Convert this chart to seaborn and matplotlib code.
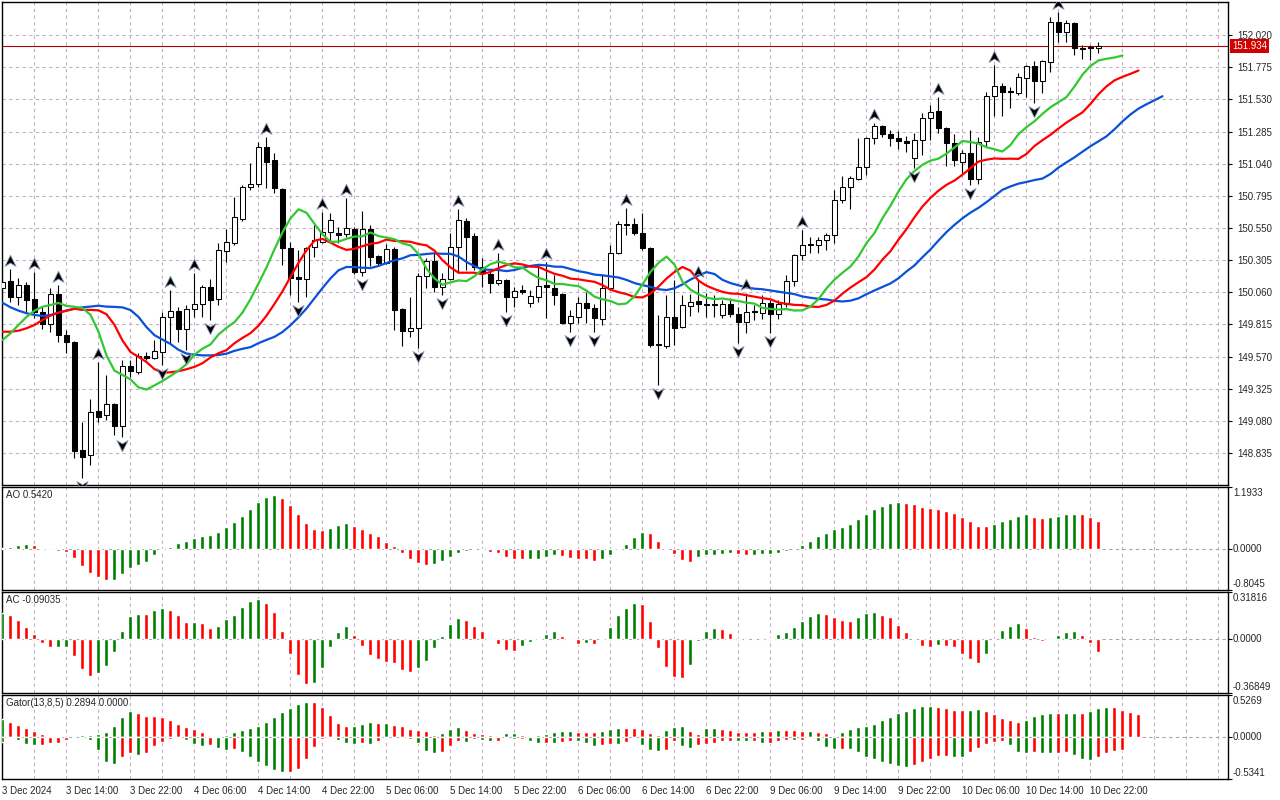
import numpy as np
import matplotlib
matplotlib.use('Agg')
import matplotlib.pyplot as plt
import matplotlib.transforms as mtransforms
from matplotlib.path import Path
import seaborn as sns

# hourly candles, 3 Dec 2024 06:00 -> 10 Dec 2024 23:00
open_ = [150.093, 150.146, 150.024, 150.115, 150.009, 149.910, 149.818, 150.047, 149.734, 149.681,
         148.858, 148.820, 149.155, 149.125, 149.209, 149.041, 149.498, 149.452, 149.574, 149.559,
         149.605, 149.871, 149.917, 149.780, 149.932, 149.971, 150.100, 150.009, 150.374, 150.435,
         150.618, 150.862, 150.885, 151.167, 151.068, 150.847, 150.397, 150.176, 150.161, 150.405,
         150.443, 150.519, 150.512, 150.504, 150.542, 150.214, 150.542, 150.336, 150.283, 150.390,
         149.932, 149.765, 149.788, 150.184, 150.298, 150.100, 150.161, 150.405, 150.603, 150.489,
         150.253, 150.199, 150.131, 150.153, 150.024, 150.077, 149.978, 150.024, 150.115, 150.093,
         150.047, 149.826, 149.871, 149.978, 149.940, 149.856, 150.093, 150.359, 150.580, 150.580,
         150.512, 150.397, 149.666, 149.650, 149.871, 149.795, 149.955, 149.993, 149.971, 149.971,
         149.887, 149.971, 149.894, 149.833, 149.917, 149.902, 149.978, 149.894, 149.971, 150.146,
         150.344, 150.428, 150.420, 150.458, 150.496, 150.763, 150.862, 150.923, 151.015, 151.235,
         151.327, 151.266, 151.235, 151.213, 151.083, 151.220, 151.388, 151.441, 151.312, 151.197,
         151.053, 151.121, 150.923, 151.213, 151.555, 151.632, 151.594, 151.578, 151.693, 151.784,
         151.670, 151.815, 152.119, 152.043, 152.112, 151.921, 151.929, 151.921]
high = [150.169, 150.237, 150.169, 150.138, 150.214, 149.948, 150.093, 150.115, 149.772, 149.689,
        149.071, 149.247, 149.529, 149.430, 149.215, 149.544, 149.544, 149.597, 149.605, 149.696,
        149.910, 150.077, 149.948, 149.963, 150.207, 150.115, 150.161, 150.435, 150.542, 150.786,
        150.877, 151.045, 151.205, 151.240, 151.121, 150.854, 150.443, 150.382, 150.405, 150.573,
        150.672, 150.664, 150.557, 150.778, 150.557, 150.679, 150.573, 150.344, 150.428, 150.405,
        149.940, 150.024, 150.207, 150.321, 150.359, 150.207, 150.512, 150.694, 150.626, 150.512,
        150.321, 150.230, 150.359, 150.161, 150.100, 150.115, 150.077, 150.253, 150.291, 150.192,
        150.054, 149.925, 150.024, 150.062, 149.971, 150.192, 150.420, 150.603, 150.702, 150.626,
        150.664, 150.405, 149.887, 150.039, 150.153, 150.039, 150.047, 150.153, 150.054, 150.039,
        150.001, 150.016, 149.948, 150.054, 149.963, 150.039, 150.001, 150.001, 150.192, 150.352,
        150.534, 150.481, 150.481, 150.512, 150.839, 150.946, 150.946, 151.235, 151.243, 151.350,
        151.335, 151.296, 151.289, 151.251, 151.274, 151.426, 151.487, 151.548, 151.320, 151.266,
        151.144, 151.296, 151.243, 151.586, 151.792, 151.655, 151.624, 151.731, 151.792, 151.822,
        151.830, 152.157, 152.196, 152.135, 152.119, 151.944, 151.944, 151.967]
low = [150.062, 149.986, 149.963, 149.902, 149.864, 149.780, 149.757, 149.681, 149.597, 148.797,
       148.645, 148.744, 149.071, 149.087, 148.972, 148.957, 149.414, 149.437, 149.544, 149.552,
       149.506, 149.673, 149.681, 149.620, 149.871, 149.871, 149.849, 149.963, 150.291, 150.420,
       150.603, 150.839, 150.862, 150.854, 150.816, 150.268, 150.039, 149.986, 150.024, 150.329,
       150.435, 150.443, 150.435, 150.481, 150.199, 150.184, 150.260, 150.268, 150.276, 149.772,
       149.650, 149.719, 149.635, 150.093, 150.062, 150.039, 150.153, 150.207, 150.230, 150.230,
       150.100, 150.054, 150.115, 149.910, 149.948, 150.047, 149.948, 149.986, 149.864, 149.963,
       149.818, 149.757, 149.826, 149.826, 149.757, 149.811, 150.077, 150.352, 150.496, 150.496,
       150.382, 149.643, 149.353, 149.635, 149.658, 149.788, 149.879, 149.910, 149.871, 149.871,
       149.864, 149.871, 149.673, 149.750, 149.849, 149.856, 149.750, 149.856, 149.948, 150.108,
       150.306, 150.359, 150.359, 150.382, 150.435, 150.740, 150.694, 150.915, 150.953, 151.190,
       151.243, 151.175, 151.152, 151.129, 151.007, 151.106, 151.220, 151.274, 151.022, 151.022,
       150.969, 150.877, 150.885, 151.175, 151.403, 151.403, 151.464, 151.563, 151.548, 151.502,
       151.578, 151.738, 151.967, 151.967, 151.868, 151.837, 151.830, 151.883]
close = [150.138, 150.024, 150.115, 150.001, 149.910, 149.818, 150.047, 149.734, 149.681, 148.850,
         148.805, 149.148, 149.109, 149.209, 149.041, 149.498, 149.460, 149.574, 149.559, 149.612,
         149.871, 149.917, 149.780, 149.932, 149.971, 150.100, 150.001, 150.382, 150.443, 150.633,
         150.862, 150.885, 151.167, 151.053, 150.854, 150.397, 150.169, 150.161, 150.397, 150.458,
         150.519, 150.611, 150.496, 150.550, 150.214, 150.542, 150.329, 150.283, 150.390, 149.925,
         149.765, 149.788, 150.184, 150.298, 150.100, 150.161, 150.405, 150.611, 150.481, 150.253,
         150.214, 150.131, 150.153, 150.024, 150.070, 150.062, 150.032, 150.108, 150.100, 150.039,
         149.826, 149.879, 149.978, 149.940, 149.864, 150.093, 150.359, 150.580, 150.573, 150.512,
         150.397, 149.658, 149.658, 149.871, 149.788, 149.963, 149.986, 149.971, 149.963, 149.963,
         149.971, 149.894, 149.833, 149.910, 149.910, 149.978, 149.894, 149.971, 150.146, 150.344,
         150.420, 150.420, 150.458, 150.496, 150.763, 150.862, 150.931, 151.015, 151.235, 151.327,
         151.266, 151.235, 151.213, 151.197, 151.220, 151.388, 151.434, 151.312, 151.197, 151.068,
         151.121, 150.923, 151.205, 151.555, 151.632, 151.586, 151.586, 151.700, 151.784, 151.670,
         151.822, 152.119, 152.043, 152.112, 151.921, 151.914, 151.921, 151.934]

# bars carrying a fractal arrow
fractal_up = [1, 4, 7, 12, 21, 24, 33, 40, 43, 57, 62, 68, 78, 87, 93, 100, 109, 117, 124, 132]
fractal_dn = [10, 15, 20, 23, 26, 37, 45, 52, 55, 63, 71, 74, 82, 92, 96, 114, 121, 129]

# alligator values drawn over the first bars (they come from older history)
jaw_start = [149.980, 149.945, 149.920, 149.900, 149.887, 149.879, 149.887, 149.904]
teeth_start = [149.759, 149.759, 149.767, 149.785, 149.811]
lips_start = [149.696, 149.747, 149.811]

ao = [0.010, 0.026, 0.065, 0.084, 0.065, 0.007, -0.026, -0.046, -0.065, -0.187,
      -0.337, -0.478, -0.550, -0.608, -0.601, -0.492, -0.381, -0.323, -0.259, -0.129,
      -0.026, 0.039, 0.104, 0.155, 0.201, 0.245, 0.259, 0.323, 0.420, 0.517,
      0.633, 0.763, 0.905, 1.002, 1.041, 0.977, 0.841, 0.666, 0.504, 0.375,
      0.356, 0.395, 0.459, 0.492, 0.434, 0.375, 0.298, 0.240, 0.129, 0.042,
      -0.090, -0.207, -0.284, -0.323, -0.304, -0.245, -0.168, -0.090, -0.051, -0.032,
      -0.026, -0.071, -0.090, -0.168, -0.207, -0.209, -0.204, -0.201, -0.168, -0.129,
      -0.148, -0.187, -0.207, -0.209, -0.245, -0.207, -0.129, -0.013, 0.097, 0.233,
      0.330, 0.310, 0.155, 0.019, -0.110, -0.226, -0.265, -0.168, -0.129, -0.116,
      -0.110, -0.090, -0.110, -0.129, -0.126, -0.110, -0.107, -0.090, -0.051, -0.013,
      0.078, 0.155, 0.252, 0.310, 0.369, 0.427, 0.485, 0.582, 0.679, 0.776,
      0.834, 0.892, 0.897, 0.892, 0.854, 0.815, 0.795, 0.776, 0.737, 0.698,
      0.621, 0.543, 0.446, 0.441, 0.485, 0.543, 0.582, 0.640, 0.660, 0.621,
      0.601, 0.621, 0.640, 0.660, 0.679, 0.674, 0.621, 0.542]
ac = [0.176, 0.162, 0.127, 0.079, 0.030, -0.030, -0.056, -0.055, -0.054, -0.120,
      -0.204, -0.252, -0.231, -0.183, -0.093, 0.051, 0.157, 0.169, 0.168, 0.197,
      0.206, 0.197, 0.164, 0.116, 0.117, 0.109, 0.074, 0.088, 0.134, 0.164,
      0.213, 0.255, 0.269, 0.241, 0.185, 0.051, -0.102, -0.245, -0.308, -0.301,
      -0.199, -0.058, 0.046, 0.088, 0.025, -0.051, -0.109, -0.137, -0.155, -0.165,
      -0.211, -0.225, -0.197, -0.148, -0.065, 0.021, 0.100, 0.141, 0.127, 0.086,
      0.051, -0.002, -0.037, -0.079, -0.086, -0.051, -0.023, 0.002, 0.030, 0.051,
      0.016, -0.009, -0.037, -0.030, -0.037, 0.003, 0.079, 0.162, 0.211, 0.245,
      0.238, 0.120, -0.065, -0.190, -0.259, -0.266, -0.176, -0.016, 0.051, 0.072,
      0.065, 0.037, -0.004, -0.009, -0.007, 0.000, 0.007, 0.030, 0.044, 0.079,
      0.120, 0.155, 0.176, 0.169, 0.148, 0.127, 0.120, 0.148, 0.176, 0.183,
      0.162, 0.148, 0.093, 0.044, -0.009, -0.051, -0.058, -0.044, -0.051, -0.058,
      -0.100, -0.134, -0.162, -0.100, -0.009, 0.058, 0.086, 0.106, 0.072, 0.009,
      -0.016, -0.001, 0.023, 0.044, 0.051, 0.023, -0.030, -0.090]

time_labels = ['3 Dec 2024', '3 Dec 14:00', '3 Dec 22:00', '4 Dec 06:00', '4 Dec 14:00',
               '4 Dec 22:00', '5 Dec 06:00', '5 Dec 14:00', '5 Dec 22:00', '6 Dec 06:00',
               '6 Dec 14:00', '6 Dec 22:00', '9 Dec 06:00', '9 Dec 14:00', '9 Dec 22:00',
               '10 Dec 06:00', '10 Dec 14:00', '10 Dec 22:00']
price_ticks = [148.835, 149.080, 149.325, 149.570, 149.815, 150.060, 150.305,
               150.550, 150.795, 151.040, 151.285, 151.530, 151.775, 152.020]
last_price = 151.934

sns.set_style('white')
plt.rcParams['font.family'] = ['Liberation Sans', 'DejaVu Sans']
plt.rcParams['font.size'] = 7

o = np.array(open_)
h = np.array(high)
l = np.array(low)
c = np.array(close)
n = len(c)
x = np.arange(n)

# alligator: smoothed MA of median price, shifted forward
med = (h + l) / 2
jaw = list(jaw_start)
for k in range(len(jaw_start), n + 8):
    jaw.append((jaw[-1] * 12 + med[k - 8]) / 13)
teeth = list(teeth_start)
for k in range(len(teeth_start), n + 5):
    teeth.append((teeth[-1] * 7 + med[k - 5]) / 8)
lips = list(lips_start)
for k in range(len(lips_start), n + 3):
    lips.append((lips[-1] * 4 + med[k - 3]) / 5)
jaw, teeth, lips = np.array(jaw), np.array(teeth), np.array(lips)

gator_up = np.abs(jaw[:len(teeth)] - teeth)
gator_dn = np.abs(teeth[:len(lips)] - lips)

GREEN, RED = '#008000', '#ff0000'


def bar_colors(vals):
    cols = [GREEN]
    for i in range(1, len(vals)):
        cols.append(GREEN if vals[i] > vals[i - 1] else RED)
    return cols


fig = plt.figure(figsize=(12.8, 8), dpi=100)


def panel(top, bottom):
    return fig.add_axes([2 / 1280, 1 - bottom / 800, 1226 / 1280, (bottom - top) / 800])


ax = panel(2, 485)
ax_ao = panel(487, 590)
ax_ac = panel(592, 693)
ax_g = panel(695, 779)
axes = [ax, ax_ao, ax_ac, ax_g]

grid_col = '#c4afc6'
dash = (0, (3, 3))
for a in axes:
    a.set_xlim(-0.0625, 153.19)
    for gx in range(0, 154, 4):
        a.axvline(gx, color=grid_col, lw=0.8, ls=dash, zorder=0)
    for s in a.spines.values():
        s.set_color('black')
        s.set_linewidth(1)
    a.set_xticks([])
    a.tick_params(axis='y', which='both', length=3, color='black', direction='out', pad=3)

# main chart
for p in price_ticks:
    ax.axhline(p, color=grid_col, lw=0.8, ls=dash, zorder=0)
ax.axhline(last_price, color='#b00000', lw=0.8, zorder=1)

ax.vlines(x, l, h, color='black', lw=0.8, zorder=3)
body_lo = np.minimum(o, c)
body_h = np.maximum(np.abs(c - o), 0.002)
ax.bar(x, body_h, bottom=body_lo, width=0.62, color=np.where(c >= o, 'white', 'black'),
       edgecolor='black', linewidth=0.75, zorder=4)

sns.lineplot(x=np.arange(len(jaw)), y=jaw, ax=ax, color='#0a50d8', linewidth=1.6, zorder=5)
sns.lineplot(x=np.arange(len(teeth)), y=teeth, ax=ax, color='#ff0000', linewidth=1.6, zorder=5)
sns.lineplot(x=np.arange(len(lips)), y=lips, ax=ax, color='#32c832', linewidth=1.6, zorder=5)

codes = [Path.MOVETO, Path.LINETO, Path.LINETO, Path.LINETO, Path.CLOSEPOLY]
arrow_up = Path([(0, 1), (0.9, -0.8), (0, -0.25), (-0.9, -0.8), (0, 1)], codes)
arrow_dn = Path([(0, -1), (0.9, 0.8), (0, 0.25), (-0.9, 0.8), (0, -1)], codes)
up_tr = mtransforms.offset_copy(ax.transData, fig=fig, x=0, y=8, units='dots')
dn_tr = mtransforms.offset_copy(ax.transData, fig=fig, x=0, y=-8, units='dots')
ax.scatter(x[fractal_up], h[fractal_up], marker=arrow_up, s=80, c='black',
           edgecolors='#8c9ab8', linewidths=0.6, transform=up_tr, zorder=6)
ax.scatter(x[fractal_dn], l[fractal_dn], marker=arrow_dn, s=80, c='black',
           edgecolors='#8c9ab8', linewidths=0.6, transform=dn_tr, zorder=6)

ax.set_ylim(148.591, 152.272)
ax.yaxis.tick_right()
ax.set_yticks(price_ticks)
ax.set_yticklabels([f'{p:.3f}' for p in price_ticks], fontsize=7)
ax.tick_params(axis='y', pad=4)
ax.set_xlabel('')
ax.set_ylabel('')
blend = mtransforms.blended_transform_factory(ax.transAxes, ax.transData)
ax.annotate(f'{last_price:.3f}', xy=(1, last_price), xycoords=blend, xytext=(4, 0),
            textcoords='offset pixels', va='center', ha='left', color='white', fontsize=7,
            bbox=dict(boxstyle='square,pad=0.22', fc='#d10000', ec='none'),
            annotation_clip=False, zorder=10)


def side_labels(a, top_val, bottom_val, texts):
    a.yaxis.tick_right()
    a.set_ylim(bottom_val, top_val)
    a.set_yticks([bottom_val, 0, top_val])
    a.set_yticklabels([])
    tr = mtransforms.blended_transform_factory(a.transAxes, a.transData)
    for v, va, dy, t in ((top_val, 'top', -1, texts[0]), (0, 'center', 0, texts[1]),
                         (bottom_val, 'bottom', 1, texts[2])):
        a.annotate(t, xy=(1, v), xycoords=tr, xytext=(5, dy), textcoords='offset pixels',
                   va=va, ha='left', fontsize=7, annotation_clip=False)
    a.axhline(0, color='#a0a6b4', lw=0.8, ls=dash, zorder=1)


def title(a, text):
    a.annotate(text, xy=(0, 1), xycoords='axes fraction', xytext=(4, -3),
               textcoords='offset pixels', va='top', ha='left', fontsize=7)


# AO
ax_ao.bar(x, ao, width=0.5, color=bar_colors(ao), zorder=3)
side_labels(ax_ao, 1.1933, -0.8045, ['1.1933', '0.0000', '-0.8045'])
title(ax_ao, 'AO 0.5420')

# AC
ax_ac.bar(x, ac, width=0.5, color=bar_colors(ac), zorder=3)
side_labels(ax_ac, 0.31816, -0.36849, ['0.31816', '0.0000', '-0.36849'])
title(ax_ac, 'AC -0.09035')

# Gator
ax_g.bar(np.arange(len(gator_up)), gator_up, width=0.5, color=bar_colors(gator_up), zorder=3)
ax_g.bar(np.arange(len(gator_dn)), -gator_dn, width=0.5, color=bar_colors(gator_dn), zorder=3)
side_labels(ax_g, 0.5269, -0.5341, ['0.5269', '0.0000', '-0.5341'])
title(ax_g, 'Gator(13,8,5) 0.2894 0.0000')

ax_g.set_xticks(np.arange(0, 8 * len(time_labels), 8))
ax_g.set_xticklabels(time_labels, ha='left', fontsize=7)
ax_g.tick_params(axis='x', length=3, color='black', direction='out', pad=2)

fig.savefig('out.png', dpi=100)
